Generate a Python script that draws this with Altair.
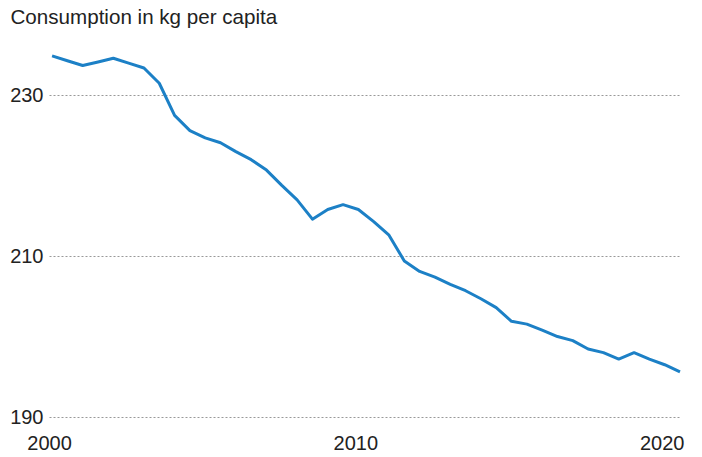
import altair as alt
import pandas as pd

years = [2000.0 + 0.5 * i for i in range(42)]
consumption = [
    234.9, 234.3, 233.7, 234.15, 234.6, 234.0, 233.4, 231.5, 227.5, 225.6,
    224.7, 224.1, 223.0, 222.0, 220.7, 218.8, 217.0, 214.6, 215.8, 216.4,
    215.8, 214.3, 212.6, 209.4, 208.1, 207.4, 206.5, 205.7, 204.7, 203.6,
    201.9, 201.55, 200.8, 200.0, 199.5, 198.45, 198.0, 197.2, 198.0, 197.2,
    196.5, 195.6,
]
x_ticks = [2000, 2010, 2020]
y_ticks = [190, 210, 230]
title_text = "Consumption in kg per capita"

df = pd.DataFrame({"year": years, "value": consumption})

FONT = "Liberation Sans"
TEXT = "#222222"

chart = (
    alt.Chart(df)
    .mark_line(color="#1c80c6", strokeWidth=3, strokeJoin="round")
    .encode(
        x=alt.X(
            "year:Q",
            scale=alt.Scale(domain=[1999.9, 2020.5], nice=False, zero=False),
            axis=alt.Axis(
                values=x_ticks,
                format="d",
                title=None,
                grid=False,
                ticks=False,
                domain=False,
                labelFont=FONT,
                labelFontSize=20,
                labelColor=TEXT,
                labelPadding=16,
                labelOffset=-3,
                labelOverlap=False,
            ),
        ),
        y=alt.Y(
            "value:Q",
            scale=alt.Scale(domain=[190, 237], nice=False, zero=False),
            axis=alt.Axis(
                values=y_ticks,
                title=title_text,
                titleX=-39,
                titleY=-16,
                titleAngle=0,
                titleAlign="left",
                titleBaseline="alphabetic",
                titleFont=FONT,
                titleFontSize=20.6,
                titleFontWeight="normal",
                titleColor=TEXT,
                titleLimit=600,
                grid=True,
                gridColor="#999999",
                gridDash=[2, 2],
                gridWidth=1,
                ticks=False,
                domain=False,
                labelFont=FONT,
                labelFontSize=20,
                labelColor=TEXT,
                labelPadding=6,
            ),
        ),
    )
    .properties(
        width=631,
        height=378,
        padding={"left": 41, "top": 31, "right": 14, "bottom": 40},
        autosize=alt.AutoSizeParams(type="none"),
    )
    .configure_view(stroke=None)
)

chart.save("out.html", embed_options={"renderer": "svg", "actions": False})
